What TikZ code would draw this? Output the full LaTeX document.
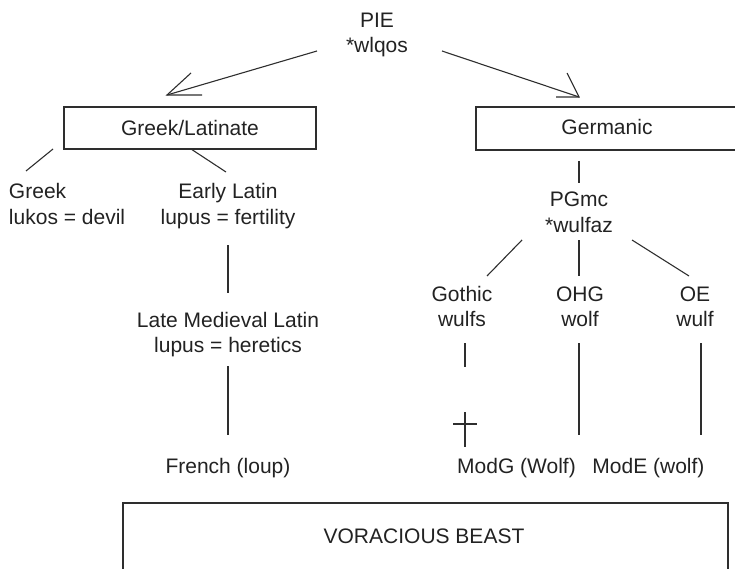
\documentclass[tikz,border=0pt]{standalone}
\usepackage{fontspec}
\setmainfont{Liberation Sans}
\usetikzlibrary{calc}
\definecolor{ink}{HTML}{222222}
\definecolor{rule}{HTML}{2E2E2E}
\begin{document}
\begin{tikzpicture}[x=1pt,y=-1pt,
  every node/.style={text=ink,inner sep=0pt,outer sep=0pt},
  lbl/.style={font=\fontsize{21}{25}\selectfont,align=center,anchor=base},
  lbll/.style={font=\fontsize{21}{25}\selectfont,align=left,anchor=base west},
  link/.style={draw=rule,line width=1.1pt},
  frame/.style={draw=rule,line width=1.3pt}]
\useasboundingbox (0,0) rectangle (735,569);

% root
\node[lbl] (pie) at (377,53) {PIE\\*wlqos};

% first split with open arrow tips
\coordinate (pieL) at (317,51);
\coordinate (tipL) at (167,95);
\coordinate (pieR) at (442,51);
\coordinate (tipR) at (579,97);
\draw[link] (pieL) -- (tipL);
\draw[link] (191,73) -- (tipL) -- (202,95);
\draw[link] (pieR) -- (tipR);
\draw[link] (567,73) -- (tipR) -- (556,97);

% branch boxes
\node[frame,minimum width=252pt,minimum height=42pt,
      font=\fontsize{21}{25}\selectfont] (gl) at (190,128) {Greek/Latinate};
\draw[frame] (736,107) -- (476,107) -- (476,150) -- (736,150);
\node[lbl] (germ) at (607,135) {Germanic};

% Greek/Latinate descendants
\node[lbll] (greek) at (9,224) {Greek\\lukos = devil};
\node[lbl] (early) at (228,224) {Early Latin\\lupus = fertility};
\node[lbl] (late) at (228,352) {Late Medieval Latin\\lupus = heretics};
\node[lbl] (french) at (228,473) {French (loup)};
\coordinate (glA) at (53,149);  \coordinate (grA) at (26,171);
\coordinate (glB) at (191,149); \coordinate (elA) at (226,172);
\draw[link] (glA) -- (grA);
\draw[link] (glB) -- (elA);
\coordinate (elB) at (228,245); \coordinate (lmA) at (228,293);
\draw[link] (elB) -- (lmA);
\coordinate (lmB) at (228,366); \coordinate (frA) at (228,435);
\draw[link] (lmB) -- (frA);

% Germanic descendants
\node[lbl] (pgmc) at (579,232) {PGmc\\*wulfaz};
\coordinate (geA) at (579,161); \coordinate (pgA) at (579,183);
\draw[link] (geA) -- (pgA);
\node[lbl] (gothic) at (462,326) {Gothic\\wulfs};
\node[lbl] (ohg) at (580,326) {OHG\\wolf};
\node[lbl] (oe) at (695,326) {OE\\wulf};
\draw[link] (522,240) -- (487,276);
\draw[link] (579,240) -- (579,276);
\draw[link] (632,240) -- (689,276);

\node[lbl] (modg) at (516.5,473) {ModG (Wolf)};
\node[lbl] (mode) at (648.5,473) {ModE (wolf)};
% Gothic dies out
\draw[link] (465,343) -- (465,367);
\coordinate (dead) at (465,424);
\draw[link] (465,412) -- (465,447);
\draw[link] (453,424) -- (477,424);
\coordinate (ohgB) at (579,343); \coordinate (mgA) at (579,435);
\draw[link] (ohgB) -- (mgA);
\coordinate (oeB) at (701,343); \coordinate (meA) at (701,435);
\draw[link] (oeB) -- (meA);

% common meaning
\draw[frame] (123,570) -- (123,503) -- (728,503) -- (728,570);
\node[lbl] (beast) at (424,543) {VORACIOUS BEAST};
\end{tikzpicture}
\end{document}
